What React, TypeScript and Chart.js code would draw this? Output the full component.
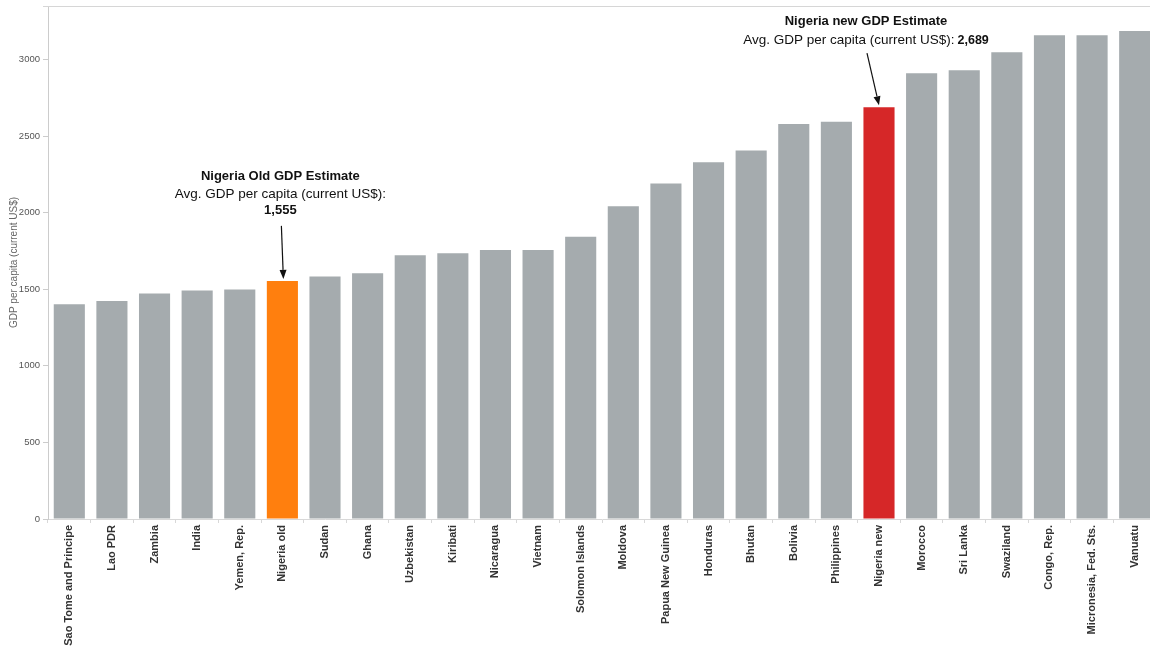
import React, { useEffect, useRef } from "react";
import { Chart, registerables } from "chart.js";

Chart.register(...registerables);

const countries = [
  "Sao Tome and Principe", "Lao PDR", "Zambia", "India", "Yemen, Rep.", "Nigeria old",
  "Sudan", "Ghana", "Uzbekistan", "Kiribati", "Nicaragua", "Vietnam", "Solomon Islands",
  "Moldova", "Papua New Guinea", "Honduras", "Bhutan", "Bolivia", "Philippines",
  "Nigeria new", "Morocco", "Sri Lanka", "Swaziland", "Congo, Rep.", "Micronesia, Fed. Sts.", "Vanuatu",
];

const gdpValues = [
  1403, 1423, 1472, 1492, 1499, 1555,
  1583, 1605, 1723, 1736, 1756, 1756, 1843,
  2043, 2191, 2330, 2407, 2580, 2594,
  2689, 2911, 2931, 3048, 3159, 3159, 3186,
];

const yTickValues = [0, 500, 1000, 1500, 2000, 2500, 3000];
const yMax = 3350;

const oldLabel = "Nigeria old";
const newLabel = "Nigeria new";
const oldTitle = "Nigeria Old GDP Estimate";
const newTitle = "Nigeria new GDP Estimate";
const avgText = "Avg. GDP per capita (current US$):";
const oldValueText = "1,555";
const newValueText = "2,689";

const GRAY = "#a5abae";
const ORANGE = "#ff7f0e";
const RED = "#d62728";
const FONT = "'Liberation Sans', Arial, sans-serif";

function drawArrow(ctx: CanvasRenderingContext2D, x1: number, y1: number, x2: number, y2: number) {
  const ang = Math.atan2(y2 - y1, x2 - x1);
  const len = 9;
  const half = 3.5;
  const bx = x2 - len * Math.cos(ang);
  const by = y2 - len * Math.sin(ang);
  ctx.strokeStyle = "#111";
  ctx.fillStyle = "#111";
  ctx.lineWidth = 1.2;
  ctx.beginPath();
  ctx.moveTo(x1, y1);
  ctx.lineTo(bx, by);
  ctx.stroke();
  ctx.beginPath();
  ctx.moveTo(x2, y2);
  ctx.lineTo(bx + half * Math.sin(ang), by - half * Math.cos(ang));
  ctx.lineTo(bx - half * Math.sin(ang), by + half * Math.cos(ang));
  ctx.closePath();
  ctx.fill();
}

const annotationPlugin = {
  id: "nigeriaAnnotations",
  afterDatasetsDraw(chart: any) {
    const ctx: CanvasRenderingContext2D = chart.ctx;
    const xs = chart.scales.x;
    const ys = chart.scales.y;
    const area = chart.chartArea;
    ctx.save();
    // top frame line
    ctx.strokeStyle = "#d6d6d6";
    ctx.lineWidth = 1;
    ctx.beginPath();
    ctx.moveTo(area.left - 5, Math.round(area.top) + 0.5);
    ctx.lineTo(area.right + 10, Math.round(area.top) + 0.5);
    ctx.stroke();

    ctx.textAlign = "center";
    ctx.textBaseline = "middle";
    ctx.fillStyle = "#111";

    // old estimate
    const io = countries.indexOf(oldLabel);
    const ox = xs.getPixelForValue(io);
    const oy = ys.getPixelForValue(gdpValues[io]);
    ctx.font = `bold 13px ${FONT}`;
    ctx.fillText(oldTitle, ox - 2, oy - 104);
    ctx.font = `13.5px ${FONT}`;
    ctx.fillText(avgText, ox - 2, oy - 87);
    ctx.font = `bold 13px ${FONT}`;
    ctx.fillText(oldValueText, ox - 2, oy - 70);
    drawArrow(ctx, ox - 1, oy - 55, ox + 1, oy - 2);

    // new estimate
    const iN = countries.indexOf(newLabel);
    const nx = xs.getPixelForValue(iN);
    const ny = ys.getPixelForValue(gdpValues[iN]);
    const cx = nx - 13;
    ctx.font = `bold 13px ${FONT}`;
    ctx.fillText(newTitle, cx, ny - 86);
    ctx.font = `13.5px ${FONT}`;
    const w1 = ctx.measureText(avgText).width;
    const gap = 3;
    ctx.font = `bold 12.5px ${FONT}`;
    const w2 = ctx.measureText(newValueText).width;
    const startX = cx - (w1 + gap + w2) / 2;
    ctx.textAlign = "left";
    ctx.font = `13.5px ${FONT}`;
    ctx.fillText(avgText, startX, ny - 67);
    ctx.font = `bold 12.5px ${FONT}`;
    ctx.fillText(newValueText, startX + w1 + gap, ny - 67);
    drawArrow(ctx, nx - 12, ny - 54, nx, ny - 2);
    ctx.restore();
  },
};

export default function App() {
  const canvasRef = useRef<HTMLCanvasElement | null>(null);

  useEffect(() => {
    const canvas = canvasRef.current;
    if (!canvas) return;
    document.body.style.overflow = "hidden";
    const colors = countries.map((c) => (c === oldLabel ? ORANGE : c === newLabel ? RED : GRAY));
    const chart = new Chart(canvas, {
      type: "bar",
      data: {
        labels: countries,
        datasets: [
          {
            data: gdpValues,
            backgroundColor: colors,
            borderWidth: 0,
            barPercentage: 0.73,
            categoryPercentage: 1,
          },
        ],
      },
      options: {
        animation: false,
        responsive: false,
        maintainAspectRatio: false,
        layout: { padding: { left: 0, right: 6, top: 6, bottom: 0 } },
        plugins: {
          legend: { display: false },
          tooltip: { enabled: false },
        },
        scales: {
          x: {
            grid: {
              display: true,
              drawOnChartArea: false,
              offset: true,
              tickLength: 4,
              color: "#d8d8d8",
            },
            border: { display: true, color: "#d8d8d8" },
            ticks: {
              autoSkip: false,
              maxRotation: 90,
              minRotation: 90,
              padding: 2,
              color: "#333",
              font: { family: FONT, size: 11, weight: "bold" },
            },
            afterFit: (scale: any) => {
              scale.height = 134;
              scale.paddingLeft = 0;
              scale.paddingRight = 0;
            },
          },
          y: {
            min: 0,
            max: yMax,
            grid: {
              display: true,
              drawOnChartArea: false,
              tickLength: 5,
              color: "#cccccc",
            },
            border: { display: true, color: "#cccccc" },
            ticks: {
              padding: 3,
              color: "#555",
              font: { family: FONT, size: 9.5 },
              callback: (v: any) => String(v),
            },
            afterBuildTicks: (scale: any) => {
              scale.ticks = yTickValues.map((v) => ({ value: v }));
            },
            title: {
              display: true,
              text: "GDP per capita (current US$)",
              color: "#666",
              font: { family: FONT, size: 10 },
              padding: { top: 8, bottom: 0 },
            },
            afterFit: (scale: any) => {
              scale.width = 48;
              scale.paddingTop = 0;
              scale.paddingBottom = 0;
            },
          },
        },
      },
      plugins: [annotationPlugin],
    });
    return () => chart.destroy();
  }, []);

  return (
    <div style={{ position: "fixed", left: 0, top: 0, width: 1150, height: 653, overflow: "hidden", background: "#fff" }}>
      <canvas ref={canvasRef} width={1162} height={653} style={{ display: "block" }} />
    </div>
  );
}
